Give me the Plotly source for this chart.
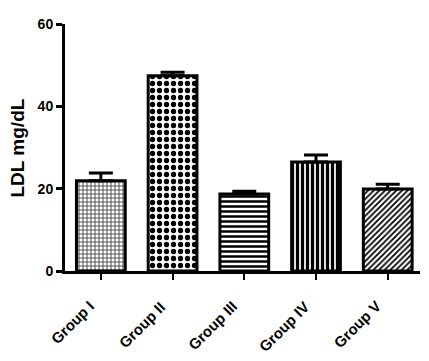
import plotly.graph_objects as go

groups = ["Group I", "Group II", "Group III", "Group IV", "Group V"]
ldl_mean = [21.9, 47.4, 18.7, 26.5, 19.9]
ldl_sem = [1.9, 0.9, 0.7, 1.7, 1.2]
y_ticks = [0, 20, 40, 60]
y_title = "LDL mg/dL"

pattern_shapes = ["+", ".", "-", "|", "/"]
pattern_sizes = [4, 7, 5, 5, 4]
pattern_solidity = [0.45, 0.45, 0.5, 0.65, 0.45]
pattern_fg = ["#555555", "black", "black", "black", "black"]

fig = go.Figure()
fig.add_trace(go.Bar(
    x=groups, y=ldl_mean, width=0.68,
    marker=dict(
        color="white",
        line=dict(color="black", width=3),
        pattern=dict(shape=pattern_shapes, size=pattern_sizes,
                     solidity=pattern_solidity, fgcolor=pattern_fg,
                     bgcolor="white", fillmode="replace"),
    ),
    error_y=dict(type="data", array=ldl_sem, arrayminus=[0]*5, symmetric=False,
                 color="black", thickness=3, width=12),
))

font_family = "Liberation Sans, Arial, sans-serif"
for g in groups:
    fig.add_annotation(
        x=g, y=0, xref="x", yref="y", text=g, showarrow=False,
        textangle=-45, xanchor="right", yanchor="top",
        xshift=-1, yshift=-24,
        font=dict(size=15, family=font_family, weight="bold", color="black"),
    )

fig.add_annotation(
    x=0, y=0.5, xref="paper", yref="paper", text=y_title, showarrow=False,
    textangle=-90, xanchor="center", yanchor="middle", xshift=-48, yshift=-1,
    font=dict(size=19, family=font_family, weight="bold", color="black"),
)

fig.update_layout(
    width=429, height=361,
    margin=dict(l=57, r=17, t=16, b=98),
    plot_bgcolor="white", paper_bgcolor="white",
    showlegend=False,
    font=dict(family=font_family, color="black"),
    xaxis=dict(
        automargin=False,
        showline=True, linecolor="black", linewidth=3,
        ticks="outside", ticklen=6, tickwidth=2, tickcolor="black",
        showticklabels=False,
        range=[-0.5, 4.45],
    ),
    yaxis=dict(
        automargin=False,
        range=[0, 60], tickvals=y_ticks,
        showline=True, linecolor="black", linewidth=3,
        ticks="outside", ticklen=6, tickwidth=3, tickcolor="black",
        showgrid=False, zeroline=False,
        tickfont=dict(size=14, family=font_family, weight="bold"),
    ),
)

fig.write_html("out.html")
